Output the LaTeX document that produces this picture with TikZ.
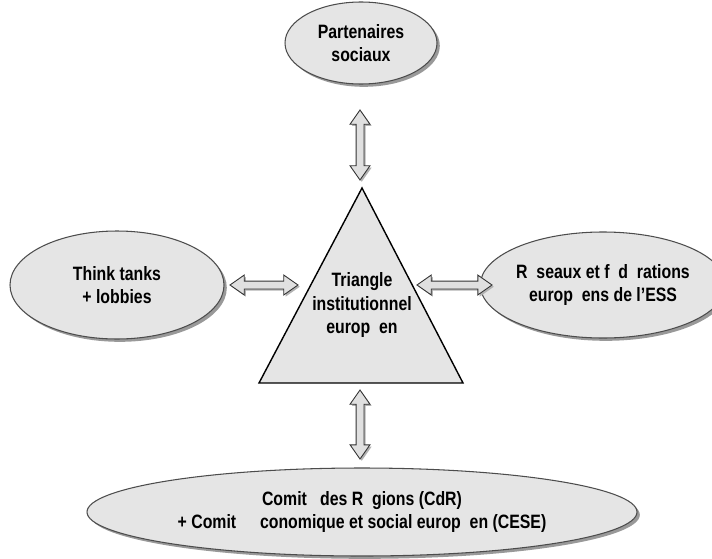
\documentclass[tikz,border=0pt]{standalone}
\usepackage{fontspec}
\setmainfont{Liberation Sans}[FakeStretch=0.82]
\usepackage{tikz}
\usetikzlibrary{shapes, shapes.arrows, shadows, positioning, calc}

\newcommand{\miss}{\phantom{\'e}}

\begin{document}
\begin{tikzpicture}[
        bubble/.style={ellipse, draw=black!70, fill=black!10, line width=0.6pt,
                inner sep=0pt, align=center, font=\bfseries\fontsize{11}{13.5}\selectfont,
                drop shadow={shadow xshift=1.6pt, shadow yshift=-1.6pt, fill=black!40, opacity=1}},
        link/.style={double arrow, draw=black!80, fill=black!12, line width=0.5pt,
                inner xsep=0pt, inner ysep=0.07cm, minimum width=0pt,
                double arrow head extend=0.12cm, double arrow tip angle=70,
                drop shadow={shadow xshift=1pt, shadow yshift=-1pt, fill=black!30, opacity=1}},
        tritext/.style={align=center, font=\bfseries\fontsize{11}{13.5}\selectfont}
    ]
    \useasboundingbox (0,0) rectangle (14.24,11.16);

    % the institutional triangle
    \draw[fill=black!10, line width=0.8pt] (7.24,7.4) -- (9.26,3.5) -- (5.18,3.5) -- cycle;
    \node[tritext] (triangle) at (7.24,5.06) {Triangle\\institutionnel\\europ\miss en};

    % actors round it
    \node[bubble, minimum width=3.04cm, minimum height=1.64cm] (partners) at (7.22,10.3) {Partenaires\\sociaux};
    \node[bubble, minimum width=4.28cm, minimum height=2.16cm] (think) at (2.34,5.46) {Think tanks\\+ lobbies};
    \node[bubble, minimum width=4.28cm, minimum height=2.12cm] (networks) at (12.06,5.46) {R\miss seaux et f\miss d\miss rations\\europ\miss ens de l'ESS};
    \node[bubble, minimum width=11cm, minimum height=1.76cm] (committees) at (7.24,0.92) {Comit\miss{} des R\miss gions (CdR)\\+ Comit\miss{} \phantom{\'E}conomique et social europ\miss en (CESE)};

    % double arrows
    \node[link, rotate=90, minimum height=1.4cm] (linktop) at (7.2,8.26) {};
    \node[link, rotate=90, minimum height=1.38cm] (linkbottom) at (7.2,2.67) {};
    \node[link, minimum height=1.36cm] (linkleft) at (5.28,5.46) {};
    \node[link, minimum height=1.5cm] (linkright) at (9.09,5.46) {};
\end{tikzpicture}
\end{document}
